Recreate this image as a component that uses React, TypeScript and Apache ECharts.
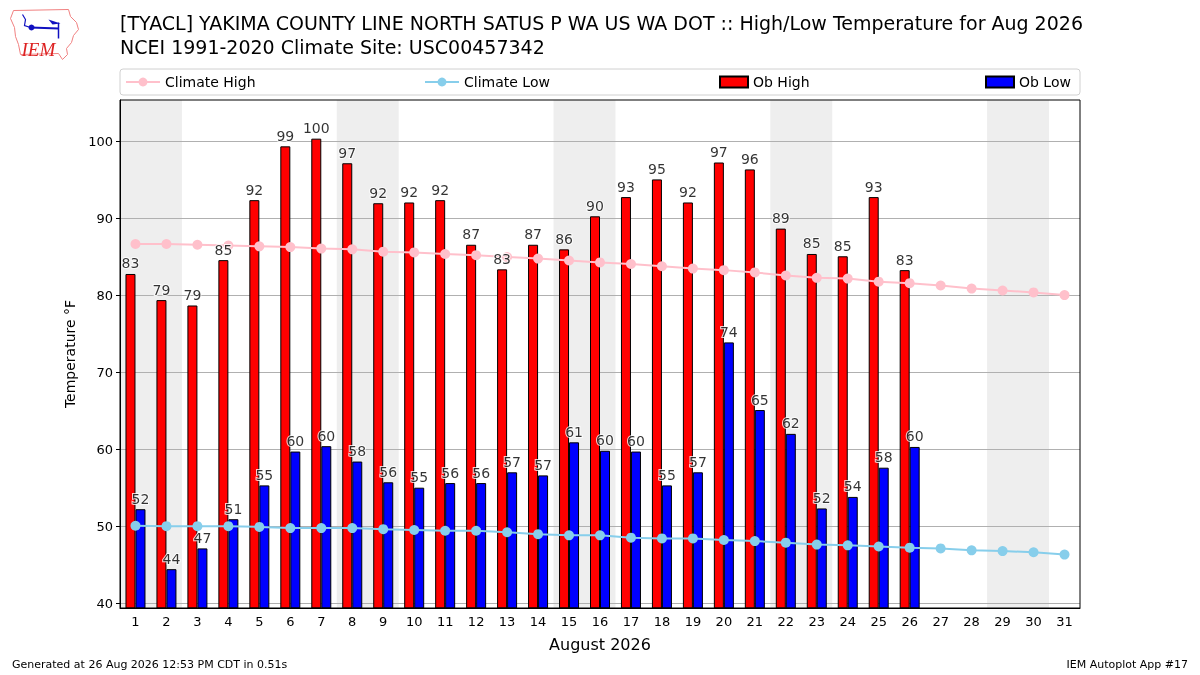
import { useEffect, useRef } from "react";
import * as echarts from "echarts";

const days = Array.from({ length: 31 }, (_, i) => String(i + 1));
const obHigh = [82.8, 79.4, 78.7, 84.6, 92.4, 99.4, 100.4, 97.2, 92.0, 92.1, 92.4, 86.6, 83.4, 86.6, 86.0, 90.3, 92.8, 95.1, 92.1, 97.3, 96.4, 88.7, 85.4, 85.1, 92.8, 83.3, null, null, null, null, null];
const obLow = [52.2, 44.4, 47.1, 50.9, 55.3, 59.7, 60.4, 58.4, 55.7, 55.0, 55.6, 55.6, 57.0, 56.6, 60.9, 59.8, 59.7, 55.3, 57.0, 73.9, 65.1, 62.0, 52.3, 53.8, 57.6, 60.3, null, null, null, null, null];
const climateHigh = [86.7, 86.7, 86.6, 86.5, 86.4, 86.3, 86.1, 86.0, 85.7, 85.6, 85.4, 85.25, 85.0, 84.8, 84.55, 84.3, 84.1, 83.8, 83.5, 83.3, 83.0, 82.6, 82.3, 82.2, 81.8, 81.6, 81.3, 80.9, 80.65, 80.4, 80.05];
const climateLow = [50.05, 50.0, 50.0, 50.0, 49.9, 49.75, 49.75, 49.75, 49.6, 49.5, 49.4, 49.4, 49.2, 48.95, 48.8, 48.8, 48.5, 48.4, 48.4, 48.2, 48.05, 47.85, 47.6, 47.5, 47.35, 47.2, 47.1, 46.85, 46.75, 46.6, 46.3];
// weekend pairs (Sat, Sun)
const weekends = [[1, 2], [8, 9], [15, 16], [22, 23], [29, 30]];
const yTicks = [40, 50, 60, 70, 80, 90, 100];

const FONT = "DejaVu Sans";
const TITLE1 = "[TYACL] YAKIMA COUNTY LINE NORTH SATUS P WA US WA DOT :: High/Low Temperature for Aug 2026";
const TITLE2 = "NCEI 1991-2020 Climate Site: USC00457342";

export default function App() {
  const chartRef = useRef<HTMLDivElement>(null);
  useEffect(() => {
    if (!chartRef.current) return;
    const chart = echarts.init(chartRef.current, null, { renderer: "svg" });

    const labelSeries = (name: string, data: (number | null)[], dx: number) => ({
      name, type: "scatter", data, symbolSize: 1, silent: true, z: 10,
      itemStyle: { color: "rgba(0,0,0,0)" },
      label: {
        show: true, position: "top", distance: 3, offset: [dx, 0],
        formatter: (p: any) => String(Math.round(p.value)),
        fontFamily: FONT, fontSize: 14, color: "#000",
        textBorderColor: "#fff", textBorderWidth: 2,
      },
    });

    const legendBase = { top: 75, padding: 0, itemHeight: 11, textStyle: { fontFamily: FONT, fontSize: 14, color: "#000" } };

    const option: any = {
      animation: false,
      textStyle: { fontFamily: FONT },
      grid: { left: 120, right: 120, top: 100, bottom: 67 },
      legend: [
        { ...legendBase, left: 125, itemWidth: 34, data: ["Climate High"] },
        { ...legendBase, left: 424, itemWidth: 34, data: ["Climate Low"] },
        { ...legendBase, left: 719, itemWidth: 28, data: [{ name: "Ob High", icon: "rect" }] },
        { ...legendBase, left: 985, itemWidth: 28, data: [{ name: "Ob Low", icon: "rect" }] },
      ],
      xAxis: [
        {
          type: "category", data: days, boundaryGap: true,
          axisLine: { lineStyle: { color: "#000" } },
          axisTick: { alignWithLabel: true, length: 4, lineStyle: { color: "#000" } },
          axisLabel: { interval: 0, color: "#000", fontSize: 13, margin: 7 },
          name: "August 2026", nameLocation: "middle", nameGap: 28,
          nameTextStyle: { fontSize: 16, color: "#000" },
        },
        { type: "value", min: 0.5, max: 31.5, show: false },
      ],
      yAxis: {
        type: "value", min: 39.35, max: 105.43,
        axisLine: { show: true, lineStyle: { color: "#000" } },
        axisTick: { show: true, length: 4, customValues: yTicks, lineStyle: { color: "#000" } },
        axisLabel: { customValues: yTicks, color: "#000", fontSize: 13, margin: 7 },
        splitLine: { show: true, lineStyle: { color: "#b0b0b0", width: 1 } },
        name: "Temperature °F", nameLocation: "middle", nameGap: 43,
        nameTextStyle: { fontSize: 14, color: "#000" },
      },
      series: [
        {
          name: "weekend", type: "custom", xAxisIndex: 1, yAxisIndex: 0, z: -1, silent: true,
          data: weekends.map(([a, b]) => [a - 0.5, b + 0.5]),
          encode: { x: [0, 1] },
          renderItem: (params: any, api: any) => {
            const s = api.coord([api.value(0), 50]);
            const e = api.coord([api.value(1), 50]);
            const cs = params.coordSys;
            return { type: "rect", shape: { x: s[0], y: cs.y, width: e[0] - s[0], height: cs.height }, style: { fill: "#eeeeee" } };
          },
        },
        {
          name: "Ob High", type: "bar", data: obHigh, barWidth: 10, barGap: "0%",
          itemStyle: { color: "#ff0000", borderColor: "#000", borderWidth: 1 },
        },
        {
          name: "Ob Low", type: "bar", data: obLow, barWidth: 10, barGap: "0%",
          itemStyle: { color: "#0000ff", borderColor: "#000", borderWidth: 1 },
        },
        {
          name: "Climate High", type: "line", data: climateHigh, z: 5,
          symbol: "circle", symbolSize: 10, showSymbol: true,
          lineStyle: { color: "#ffc0cb", width: 2 }, itemStyle: { color: "#ffc0cb" },
        },
        {
          name: "Climate Low", type: "line", data: climateLow, z: 5,
          symbol: "circle", symbolSize: 10, showSymbol: true,
          lineStyle: { color: "#87ceeb", width: 2 }, itemStyle: { color: "#87ceeb" },
        },
        labelSeries("hiLabels", obHigh, -5),
        labelSeries("loLabels", obLow, 5),
      ],
      graphic: [
        { type: "rect", z: -10, shape: { x: 120, y: 69, width: 960, height: 26, r: 3 }, style: { fill: "#fff", stroke: "#d0d0d0", lineWidth: 1 } },
        { type: "rect", z: 100, silent: true, shape: { x: 120, y: 100, width: 960, height: 508 }, style: { fill: "none", stroke: "#000", lineWidth: 1 } },
        { type: "text", left: 120, top: 13, style: { text: TITLE1, fontFamily: FONT, fontSize: 19, fill: "#000" } },
        { type: "text", left: 120, top: 37, style: { text: TITLE2, fontFamily: FONT, fontSize: 19, fill: "#000" } },
        { type: "text", left: 12, top: 659, style: { text: "Generated at 26 Aug 2026 12:53 PM CDT in 0.51s", fontFamily: FONT, fontSize: 11, fill: "#000" } },
        { type: "text", right: 12, top: 659, style: { text: "IEM Autoplot App #17", fontFamily: FONT, fontSize: 11, fill: "#000" } },
        {
          type: "group", left: 8, top: 7,
          children: [
            { type: "polygon", shape: { points: [[5, 1], [60, 0], [62, 7], [68, 13], [70, 20], [65, 26], [63, 33], [58, 39], [59, 45], [54, 50], [50, 44], [12, 45], [10, 35], [7, 27], [6, 18], [2, 9]] }, style: { fill: "none", stroke: "#f08080", lineWidth: 1 } },
            { type: "line", shape: { x1: 22, y1: 18, x2: 50, y2: 19 }, style: { stroke: "#1010c0", lineWidth: 2 } },
            { type: "circle", shape: { cx: 23, cy: 18, r: 3 }, style: { fill: "#1010c0" } },
            { type: "polygon", shape: { points: [[40, 10], [52, 14], [44, 15]] }, style: { fill: "#1010c0" } },
            { type: "line", shape: { x1: 50, y1: 13, x2: 50, y2: 29 }, style: { stroke: "#1010c0", lineWidth: 1.5 } },
            { type: "polyline", shape: { points: [[14, 5], [17, 10], [16, 16], [22, 18]] }, style: { stroke: "#1010c0", lineWidth: 1.2, fill: "none" } },
            { type: "text", x: 13, y: 30, style: { text: "IEM", fontFamily: "Liberation Serif", fontStyle: "italic", fontSize: 19, fill: "#dd2222" } },
          ],
        },
      ],
    };
    chart.setOption(option);
    return () => chart.dispose();
  }, []);
  return <div ref={chartRef} style={{ position: "fixed", left: 0, top: 0, width: 1200, height: 675 }} />;
}
